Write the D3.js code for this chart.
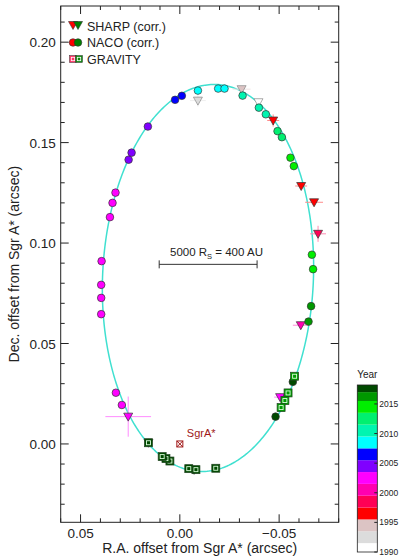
<!DOCTYPE html>
<html><head><meta charset="utf-8">
<script src="https://cdn.jsdelivr.net/npm/d3@7"></script>
<style>body{margin:0;background:#fff;} svg{display:block;font-family:"Liberation Sans",Arial,sans-serif;}</style>
</head><body><svg id="c" width="400" height="558"></svg>
<script>
// ---------------- data ----------------
// NACO (corr.) positions: RA offset, Dec offset (arcsec), epoch
const nacoRA  = [0.0322,0.0292,0.0396,0.0396,0.0396,0.0394,0.0352,0.0339,0.0324,0.0258,0.0243,0.0161,0.0024,-0.0010,-0.0091,-0.0193,-0.0225,-0.0316,-0.0398,-0.0433,-0.0492,-0.0514,-0.0557,-0.0574,-0.0665,-0.0671,-0.0661,-0.0648,-0.0569,-0.0482];
const nacoDec = [0.0255,0.0194,0.0646,0.0727,0.0792,0.0910,0.1129,0.1200,0.1251,0.1415,0.1450,0.1580,0.1713,0.1733,0.1759,0.1769,0.1769,0.1734,0.1674,0.1641,0.1557,0.1527,0.1425,0.1383,0.0942,0.0870,0.0686,0.0609,0.0309,0.0136];
const nacoYear= [2002.5,2002.6,2003.0,2003.1,2003.2,2003.3,2002.9,2002.9,2002.9,2004.8,2004.9,2005.2,2006.5,2006.8,2008.5,2008.9,2009.2,2010.2,2010.6,2011.0,2012.5,2012.7,2013.6,2013.8,2014.0,2014.4,2016.2,2016.4,2017.2,2017.4];
// SHARP (corr.)
const sharpRA  = [-0.0091,-0.0311,-0.0396,-0.0470,-0.0611,-0.0676,-0.0696,-0.0609,-0.0505,-0.0072,0.0260,0.0158];
const sharpDec = [0.1709,0.1766,0.1701,0.1610,0.1284,0.1203,0.1046,0.0591,0.0233,-0.0129,0.0136,0.0006];
const sharpYear= [1992.5,1994.5,1990.5,1996.3,1996.6,1996.8,1998.5,2000.3,2001.8,2002.3,2002.4,2002.4];
const sharpErrRA  = [0.0040,0.0045,0.0010,0.0030,0.0030,0.0045,0.0040,0.0040,0.0030,0.0020,0.0115,0.0020];
const sharpErrDec = [0.0030,0.0015,0.0010,0.0030,0.0015,0.0015,0.0040,0.0020,0.0020,0.0020,0.0100,0.0020];
// GRAVITY
const gravRA  = [-0.0578,-0.0545,-0.0529,-0.0510,-0.0181,-0.0081,-0.0045,0.0050,0.0070,0.0089,0.0158];
const gravDec = [0.0337,0.0254,0.0216,0.0181,-0.0121,-0.0128,-0.0123,-0.0085,-0.0073,-0.0063,0.0006];
const gravYear= [2016.8,2016.8,2016.8,2016.8,2018.0,2018.0,2018.0,2018.0,2018.0,2018.0,2018.0];
// orbit model: a["], e, i, omega, Omega (deg)
const orbitElements = [0.1255, 0.8847, 134.18, 66.13, 227.85];
// colour bar (years) and colours
const bandEdges  = [1990,1991.5,1993.5,1995.5,1997.5,1999.5,2001.5,2003.5,2005.5,2007.5,2009.5,2011.5,2013.5,2015.5,2017.0,2018.2];
const bandColors = ["#ffffff","#dcdcdc","#dcc4c4","#ff0000","#ff0055","#ff00b0","#ff00ff","#8000ff","#0000ff","#00ffff","#00f5b0","#00f070","#00ee00","#009900","#004a00"];
const yearTicks = [1990,1995,2000,2005,2010,2015];
const xTicks = [0.05,0.00,-0.05];
const yTicks = [0.00,0.05,0.10,0.15,0.20];

// ---------------- drawing ----------------
const svg = d3.select("#c");
const L=60.7,R=338.7,T=6,B=522.3;
const x = d3.scaleLinear().domain([0.06,-0.08]).range([L,R]);
const y = d3.scaleLinear().domain([-0.039,0.218]).range([B,T]);
const fmt = v => v===0 ? "0.00" : (v<0 ? "\u2212"+d3.format(".2f")(-v) : d3.format(".2f")(v));

const colScale = d3.scaleThreshold().domain(bandEdges.slice(1,-1)).range(bandColors);
const errCol = c => d3.interpolateRgb(c,"#ffffff")(0.55);

// orbit
const [a,e,inc,om,Om] = orbitElements;
const rad = Math.PI/180;
const ci=Math.cos(inc*rad), cw=Math.cos(om*rad), sw=Math.sin(om*rad), cO=Math.cos(Om*rad), sO=Math.sin(Om*rad);
const A=a*(cw*cO - sw*sO*ci), Bt=a*(cw*sO + sw*cO*ci), F=a*(-sw*cO - cw*sO*ci), G=a*(-sw*sO + cw*cO*ci);
const orbit = d3.range(0,361,1).map(d=>{const E=d*rad; const X=Math.cos(E)-e, Y=Math.sqrt(1-e*e)*Math.sin(E); return [Bt*X+G*Y, A*X+F*Y];});
svg.append("path").attr("d", d3.line().x(d=>x(d[0])).y(d=>y(d[1]))(orbit))
  .attr("fill","none").attr("stroke","#40e0d0").attr("stroke-width",1.5);

// scale bar
const sb=[0.0104,-0.0389], sbY=0.0894;
svg.append("line").attr("x1",x(sb[0])).attr("x2",x(sb[1])).attr("y1",y(sbY)).attr("y2",y(sbY)).attr("stroke","#333").attr("stroke-width",1);
sb.forEach(v=>svg.append("line").attr("x1",x(v)).attr("x2",x(v)).attr("y1",y(sbY)-4).attr("y2",y(sbY)+4).attr("stroke","#333").attr("stroke-width",1));
const sbt = svg.append("text").attr("x",170).attr("y",y(sbY)-8).attr("font-size",11.5).attr("fill","#222");
sbt.append("tspan").text("5000 R");
sbt.append("tspan").attr("font-size",7.5).attr("dy",3).text("S");
sbt.append("tspan").attr("dy",-3).text(" = 400 AU");

// SgrA*
const sx=x(0), sy=y(0);
svg.append("rect").attr("x",sx-3).attr("y",sy-3).attr("width",6).attr("height",6).attr("fill","none").attr("stroke","#a01818").attr("stroke-width",1);
svg.append("path").attr("d",`M${sx-3},${sy-3}L${sx+3},${sy+3}M${sx+3},${sy-3}L${sx-3},${sy+3}`).attr("stroke","#a01818").attr("stroke-width",1);
svg.append("text").attr("x",sx+7).attr("y",sy-7).attr("font-size",11).attr("fill","#a01818").text("SgrA*");

// error bars for SHARP
const errG = svg.append("g");
sharpRA.forEach((v,i)=>{
  const c=errCol(colScale(sharpYear[i]));
  errG.append("line").attr("x1",x(v-sharpErrRA[i])).attr("x2",x(v+sharpErrRA[i])).attr("y1",y(sharpDec[i])).attr("y2",y(sharpDec[i])).attr("stroke",c).attr("stroke-width",1);
  errG.append("line").attr("x1",x(v)).attr("x2",x(v)).attr("y1",y(sharpDec[i]-sharpErrDec[i])).attr("y2",y(sharpDec[i]+sharpErrDec[i])).attr("stroke",c).attr("stroke-width",1);
});
const tri = "M-4.5,-3.5L4.5,-3.5L0,4.5Z";
svg.append("g").selectAll("path").data(sharpRA).join("path")
  .attr("d",tri).attr("transform",(d,i)=>`translate(${x(d)},${y(sharpDec[i])})`)
  .attr("fill",(d,i)=>colScale(sharpYear[i])).attr("stroke",(d,i)=>sharpYear[i]<1995.5?"#888":"#333").attr("stroke-width",0.7);

// NACO
svg.append("g").selectAll("circle").data(nacoRA).join("circle")
  .attr("cx",d=>x(d)).attr("cy",(d,i)=>y(nacoDec[i])).attr("r",3.8)
  .attr("fill",(d,i)=>colScale(nacoYear[i])).attr("stroke","#333").attr("stroke-width",0.7);

// GRAVITY
const gg = svg.append("g").selectAll("g").data(gravRA).join("g").attr("transform",(d,i)=>`translate(${x(d)},${y(gravDec[i])})`);
gg.append("rect").attr("x",-4).attr("y",-4).attr("width",8).attr("height",8).attr("fill",(d,i)=>colScale(gravYear[i])).attr("stroke","#224422").attr("stroke-width",0.7);
gg.append("rect").attr("x",-2).attr("y",-2).attr("width",4).attr("height",4).attr("fill","none").attr("stroke","#ddffdd").attr("stroke-width",0.9);

// axes frame
const ax = svg.append("g").attr("stroke","#222").attr("stroke-width",1).attr("fill","none");
ax.append("rect").attr("x",L).attr("y",T).attr("width",R-L).attr("height",B-T);
const xt = d3.range(-0.08,0.0601,0.01).map(v=>+v.toFixed(2));
xt.forEach(v=>{
  const major = Math.abs(Math.round(v*100))%5===0;
  const len = major?8:4;
  ax.append("line").attr("x1",x(v)).attr("x2",x(v)).attr("y1",B).attr("y2",B-len);
  ax.append("line").attr("x1",x(v)).attr("x2",x(v)).attr("y1",T).attr("y2",T+len);
});
const yt = d3.range(-0.03,0.2101,0.01).map(v=>+v.toFixed(2));
yt.forEach(v=>{
  const major = Math.abs(Math.round(v*100))%5===0;
  const len = major?8:4;
  ax.append("line").attr("x1",L).attr("x2",L+len).attr("y1",y(v)).attr("y2",y(v));
  ax.append("line").attr("x1",R).attr("x2",R-len).attr("y1",y(v)).attr("y2",y(v));
});
xTicks.forEach(v=>svg.append("text").attr("x",x(v)).attr("y",B+16).attr("text-anchor","middle").attr("font-size",13.5).attr("fill","#222").text(fmt(v)));
yTicks.forEach(v=>svg.append("text").attr("x",L-5).attr("y",y(v)+5).attr("text-anchor","end").attr("font-size",13.5).attr("fill","#222").text(fmt(v)));
svg.append("text").attr("x",(L+R)/2).attr("y",553).attr("text-anchor","middle").attr("font-size",14).attr("fill","#222").text("R.A. offset from Sgr A* (arcsec)");
svg.append("text").attr("transform",`translate(19,${(T+B)/2}) rotate(-90)`).attr("text-anchor","middle").attr("font-size",14).attr("fill","#222").text("Dec. offset from Sgr A* (arcsec)");

// legend
const lg = svg.append("g");
const legRows = [["SHARP (corr.)",26],["NACO (corr.)",42.5],["GRAVITY",59]];
lg.append("path").attr("d",tri).attr("transform","translate(73,25)").attr("fill","#ff0000").attr("stroke","#333").attr("stroke-width",0.6);
lg.append("path").attr("d",tri).attr("transform","translate(78,25)").attr("fill","#008000").attr("stroke","#333").attr("stroke-width",0.6);
lg.append("circle").attr("cx",73).attr("cy",42.5).attr("r",3.8).attr("fill","#ff0000").attr("stroke","#333").attr("stroke-width",0.6);
lg.append("circle").attr("cx",78).attr("cy",42.5).attr("r",3.8).attr("fill","#008000").attr("stroke","#333").attr("stroke-width",0.6);
[[73,"#ff3366"],[79,"#118811"]].forEach(([cx,c])=>{
  lg.append("rect").attr("x",cx-3.5).attr("y",55.5).attr("width",7).attr("height",7).attr("fill",c).attr("stroke","#333").attr("stroke-width",0.5);
  lg.append("rect").attr("x",cx-1.7).attr("y",57.3).attr("width",3.4).attr("height",3.4).attr("fill","none").attr("stroke","#fff").attr("stroke-width",0.8);
});
legRows.forEach(([t,yy])=>lg.append("text").attr("x",87).attr("y",yy+4.5).attr("font-size",12.5).attr("fill","#222").text(t));

// colour bar
const cbX=357.3, cbW=20;
const cy = d3.scaleLinear().domain([1990,2018.2]).range([552,385]);
const cb = svg.append("g");
bandColors.forEach((c,i)=>cb.append("rect").attr("x",cbX).attr("width",cbW).attr("y",cy(bandEdges[i+1])).attr("height",cy(bandEdges[i])-cy(bandEdges[i+1])).attr("fill",c));
cb.append("rect").attr("x",cbX).attr("y",cy(2018.2)).attr("width",cbW).attr("height",cy(1990)-cy(2018.2)).attr("fill","none").attr("stroke","#222").attr("stroke-width",0.8);
yearTicks.forEach(v=>{
  cb.append("line").attr("x1",cbX+cbW-3).attr("x2",cbX+cbW).attr("y1",cy(v)).attr("y2",cy(v)).attr("stroke","#222");
  cb.append("text").attr("x",cbX+cbW+2).attr("y",cy(v)+3).attr("font-size",8.5).attr("fill","#222").text(v);
});
cb.append("text").attr("x",cbX+cbW/2).attr("y",378).attr("text-anchor","middle").attr("font-size",10).attr("fill","#222").text("Year");
</script></body></html>
